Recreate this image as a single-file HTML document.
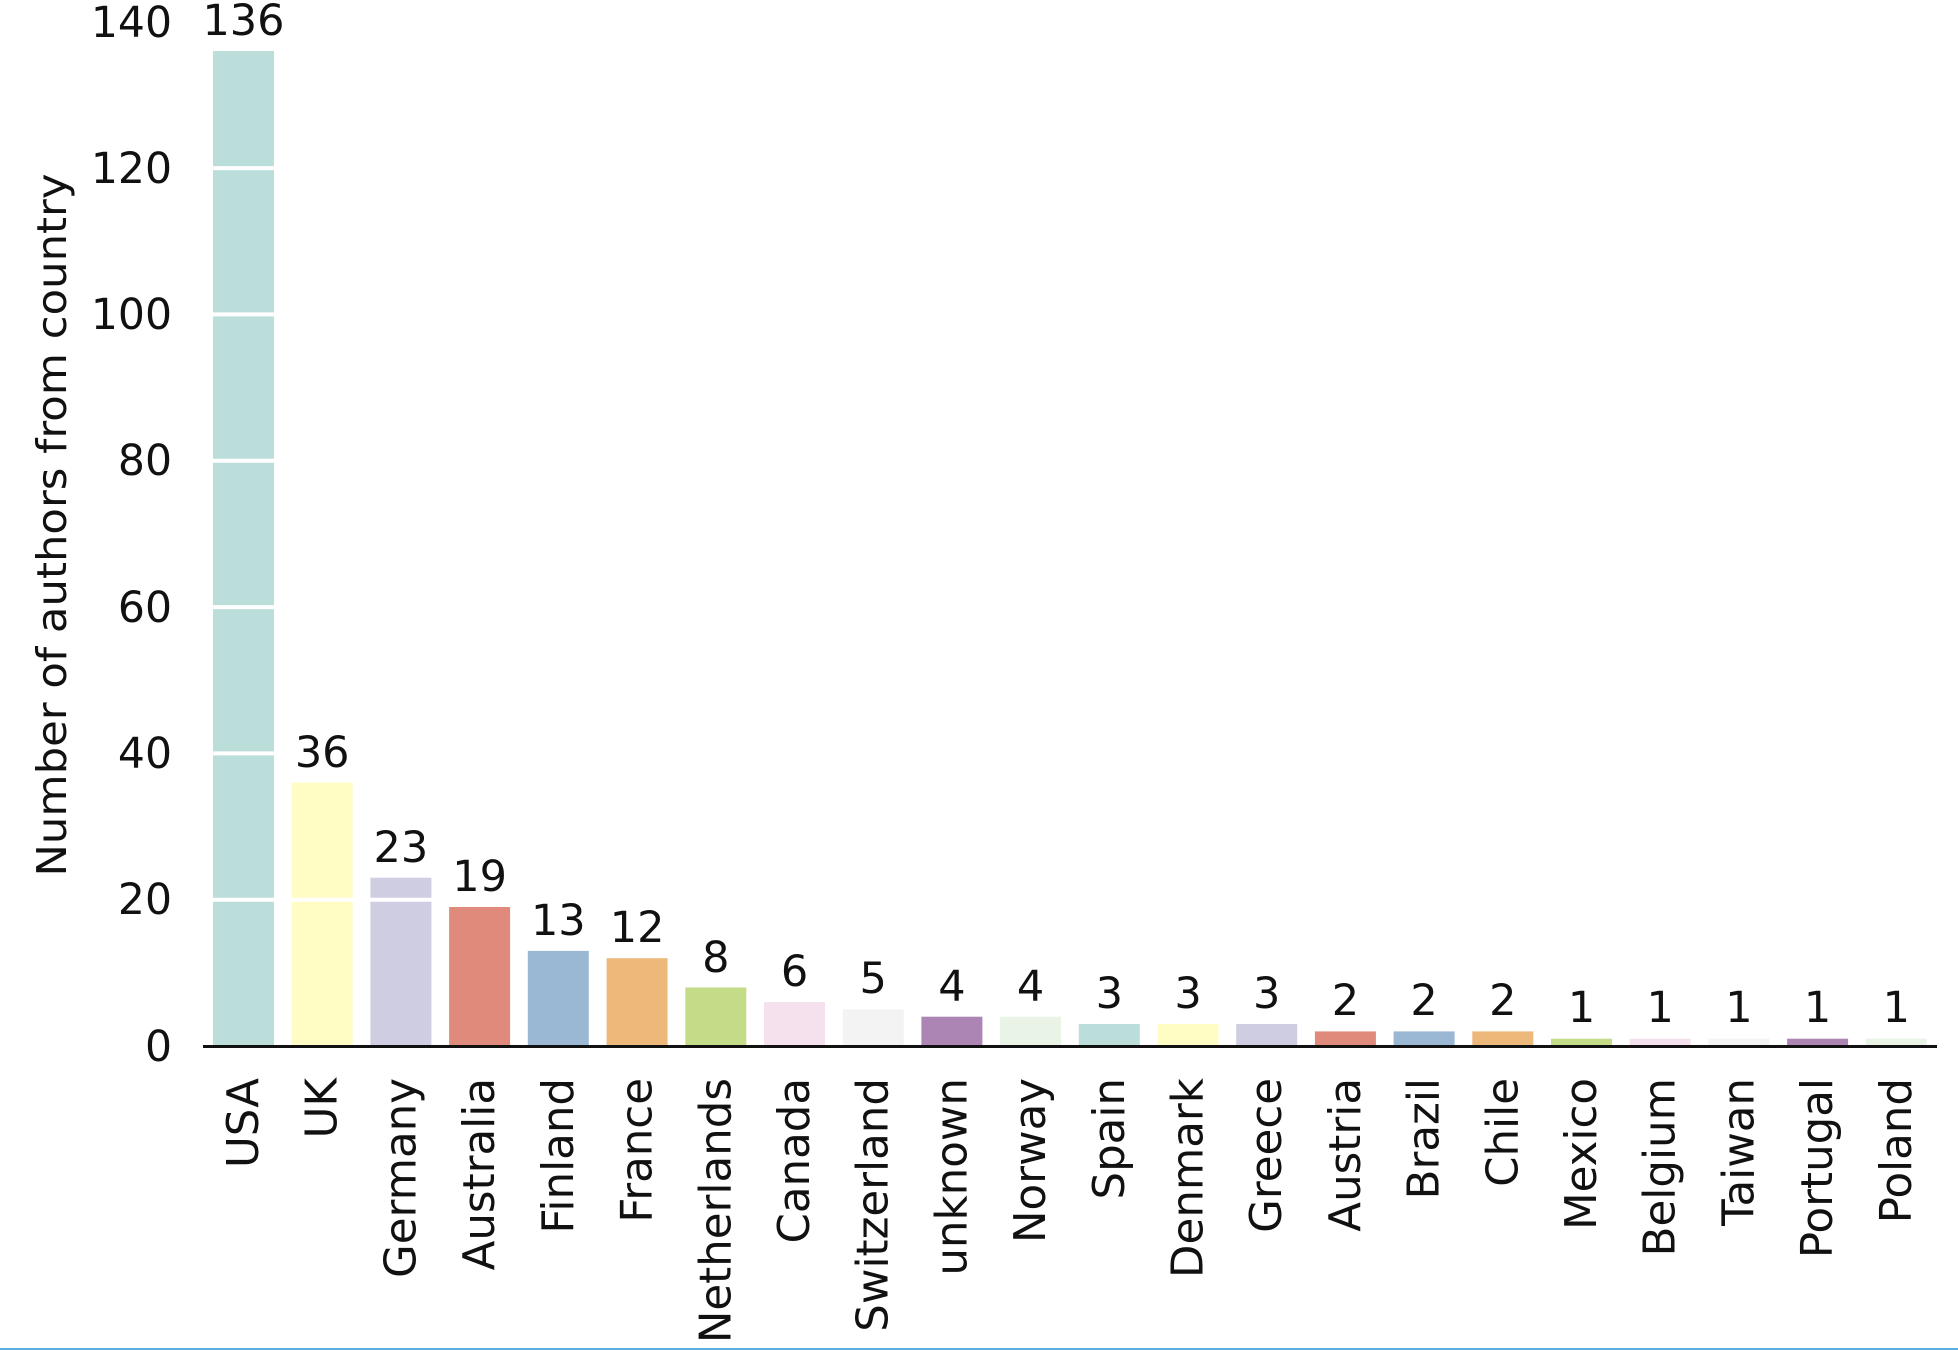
<!DOCTYPE html>
<html><head><meta charset="utf-8"><style>
html,body{margin:0;padding:0;background:#fff;}
svg{display:block;}
text{font-family:"DejaVu Sans","Liberation Sans",sans-serif;fill:#111;}
</style></head><body>
<svg width="1958" height="1350" viewBox="0 0 1958 1350" xmlns="http://www.w3.org/2000/svg">
<rect width="1958" height="1350" fill="#fff"/>
<g id="bars">
<rect x="213" y="51" width="61" height="995" fill="#bcdeda"/>
<rect x="291.7" y="782.6" width="61" height="263.4" fill="#fffcc4"/>
<rect x="370.4" y="877.7" width="61" height="168.3" fill="#cfcde2"/>
<rect x="449.1" y="907" width="61" height="139" fill="#e08a7c"/>
<rect x="527.8" y="950.9" width="61" height="95.1" fill="#9ab8d3"/>
<rect x="606.6" y="958.2" width="61" height="87.8" fill="#ecb97a"/>
<rect x="685.3" y="987.5" width="61" height="58.5" fill="#c4dc88"/>
<rect x="764" y="1002.1" width="61" height="43.9" fill="#f5e0ee"/>
<rect x="842.7" y="1009.4" width="61" height="36.6" fill="#f3f3f3"/>
<rect x="921.4" y="1016.7" width="61" height="29.3" fill="#ad85b5"/>
<rect x="1000.1" y="1016.7" width="61" height="29.3" fill="#e9f3e6"/>
<rect x="1078.8" y="1024" width="61" height="22" fill="#bcdeda"/>
<rect x="1157.5" y="1024" width="61" height="22" fill="#fffcc4"/>
<rect x="1236.2" y="1024" width="61" height="22" fill="#cfcde2"/>
<rect x="1314.9" y="1031.4" width="61" height="14.6" fill="#e08a7c"/>
<rect x="1393.6" y="1031.4" width="61" height="14.6" fill="#9ab8d3"/>
<rect x="1472.3" y="1031.4" width="61" height="14.6" fill="#ecb97a"/>
<rect x="1551" y="1038.7" width="61" height="7.3" fill="#c4dc88"/>
<rect x="1629.7" y="1038.7" width="61" height="7.3" fill="#f5e0ee"/>
<rect x="1708.4" y="1038.7" width="61" height="7.3" fill="#f3f3f3"/>
<rect x="1787.1" y="1038.7" width="61" height="7.3" fill="#ad85b5"/>
<rect x="1865.8" y="1038.7" width="61" height="7.3" fill="#e9f3e6"/>
</g>
<g stroke="#fff" stroke-width="4">
<line x1="203" x2="1937" y1="899.7" y2="899.7"/>
<line x1="203" x2="1937" y1="753.4" y2="753.4"/>
<line x1="203" x2="1937" y1="607.1" y2="607.1"/>
<line x1="203" x2="1937" y1="460.8" y2="460.8"/>
<line x1="203" x2="1937" y1="314.4" y2="314.4"/>
<line x1="203" x2="1937" y1="168.1" y2="168.1"/>
</g>
<line x1="203" x2="1937" y1="1046.5" y2="1046.5" stroke="#111" stroke-width="3"/>
<g font-size="42.5" text-anchor="end">
<text x="172" y="1061">0</text>
<text x="172" y="914">20</text>
<text x="172" y="768">40</text>
<text x="172" y="622">60</text>
<text x="172" y="475">80</text>
<text x="172" y="329">100</text>
<text x="172" y="183">120</text>
<text x="172" y="37">140</text>
</g>
<text transform="translate(66,525) rotate(-90)" font-size="41" text-anchor="middle" textLength="703" lengthAdjust="spacingAndGlyphs">Number of authors from country</text>
<g font-size="43" text-anchor="middle">
<text x="243.5" y="35">136</text>
<text x="322.2" y="767">36</text>
<text x="400.9" y="862">23</text>
<text x="479.6" y="891">19</text>
<text x="558.3" y="935">13</text>
<text x="637.1" y="942">12</text>
<text x="715.8" y="972">8</text>
<text x="794.5" y="986">6</text>
<text x="873.2" y="993">5</text>
<text x="951.9" y="1001">4</text>
<text x="1030.6" y="1001">4</text>
<text x="1109.3" y="1008">3</text>
<text x="1188" y="1008">3</text>
<text x="1266.7" y="1008">3</text>
<text x="1345.4" y="1015">2</text>
<text x="1424.1" y="1015">2</text>
<text x="1502.8" y="1015">2</text>
<text x="1581.5" y="1022">1</text>
<text x="1660.2" y="1022">1</text>
<text x="1738.9" y="1022">1</text>
<text x="1817.6" y="1022">1</text>
<text x="1896.3" y="1022">1</text>
</g>
<g font-size="43.5" text-anchor="end">
<text transform="translate(258,1078) rotate(-90)">USA</text>
<text transform="translate(336.7,1078) rotate(-90)">UK</text>
<text transform="translate(415.4,1078) rotate(-90)">Germany</text>
<text transform="translate(494.1,1078) rotate(-90)">Australia</text>
<text transform="translate(572.8,1078) rotate(-90)">Finland</text>
<text transform="translate(651.6,1078) rotate(-90)">France</text>
<text transform="translate(730.3,1078) rotate(-90)">Netherlands</text>
<text transform="translate(809,1078) rotate(-90)">Canada</text>
<text transform="translate(887.7,1078) rotate(-90)">Switzerland</text>
<text transform="translate(966.4,1078) rotate(-90)">unknown</text>
<text transform="translate(1045.1,1078) rotate(-90)">Norway</text>
<text transform="translate(1123.8,1078) rotate(-90)">Spain</text>
<text transform="translate(1202.5,1078) rotate(-90)">Denmark</text>
<text transform="translate(1281.2,1078) rotate(-90)">Greece</text>
<text transform="translate(1359.9,1078) rotate(-90)">Austria</text>
<text transform="translate(1438.6,1078) rotate(-90)">Brazil</text>
<text transform="translate(1517.3,1078) rotate(-90)">Chile</text>
<text transform="translate(1596,1078) rotate(-90)">Mexico</text>
<text transform="translate(1674.7,1078) rotate(-90)">Belgium</text>
<text transform="translate(1753.4,1078) rotate(-90)">Taiwan</text>
<text transform="translate(1832.1,1078) rotate(-90)">Portugal</text>
<text transform="translate(1910.8,1078) rotate(-90)">Poland</text>
</g>
<rect x="0" y="1348" width="1958" height="2" fill="#5aaee0"/>
</svg>
</body></html>
